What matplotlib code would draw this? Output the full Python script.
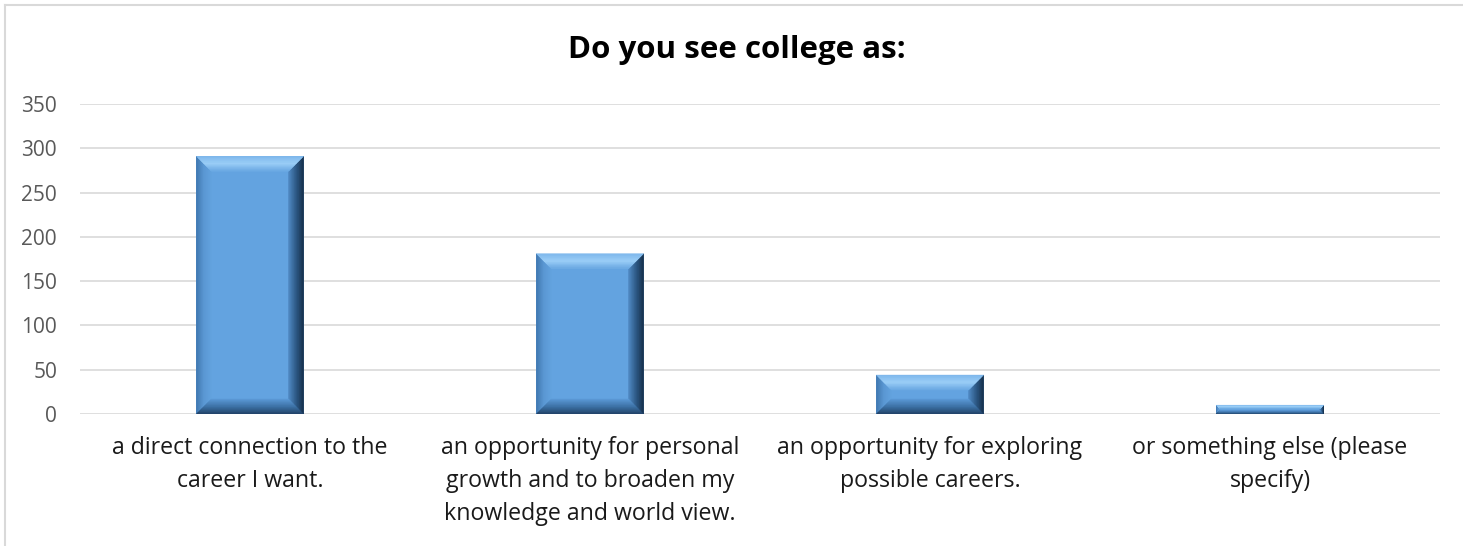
import numpy as np
import matplotlib
matplotlib.use("Agg")
import matplotlib.pyplot as plt
from matplotlib.patches import Polygon
from matplotlib.lines import Line2D
import matplotlib.colors as mcolors

categories = [
    "a direct connection to the\ncareer I want.",
    "an opportunity for personal\ngrowth and to broaden my\nknowledge and world view.",
    "an opportunity for exploring\npossible careers.",
    "or something else (please\nspecify)",
]
responses = [291, 181, 44, 10]
y_ticks = [0, 50, 100, 150, 200, 250, 300, 350]
title = "Do you see college as:"

W, H, DPI = 1463, 546, 100
plt.rcParams["font.family"] = ["Open Sans", "DejaVu Sans"]

fig = plt.figure(figsize=(W / DPI, H / DPI), dpi=DPI)
ax = fig.add_axes([80 / W, 132 / H, (1440 - 80) / W, (442 - 132) / H])

ax.set_xlim(-0.5, len(categories) - 0.5)
ax.set_ylim(0, 350)
ax.set_yticks(y_ticks)
ax.set_xticks(range(len(categories)))
ax.set_xticklabels([])
ax.tick_params(axis="both", length=0)
ax.tick_params(axis="y", labelsize=15, labelcolor="#595959", pad=16.5)
for s in ax.spines.values():
    s.set_visible(False)
ax.grid(axis="y", color="#D9D9D9", linewidth=1.2)
ax.set_axisbelow(True)

# category labels under each bar
for i, lab in enumerate(categories):
    ax.text(i, -25, lab, ha="center", va="top", fontsize=16.7,
            color="#1a1a1a", linespacing=1.5,
            transform=ax.transData, clip_on=False)

# bevelled bars
bar_w = 0.315
bevel_px = 15
ax_w_px = (1440 - 80)
ax_h_px = (442 - 132)
dx = (len(categories)) / ax_w_px
dy = 350 / ax_h_px

face = "#63A3E0"
top_c = ("#7FB8EC", "#9DD0F8", "#6BA9E3")
left_c = ("#3F76AE", "#5A97D2", "#62A2DF")
right_c = ("#142B45", "#2A5580", "#4F88C2")
bot_c = ("#1E3D60", "#3B6FA3", "#5A98D5")


def blend3(cs, t):
    a, b, c = (np.array(mcolors.to_rgb(x)) for x in cs)
    if t < 0.5:
        return a + (b - a) * (t / 0.5)
    return b + (c - b) * ((t - 0.5) / 0.5)


def strip(outer, inner, colors, n=24):
    (o1, o2), (i1, i2) = outer, inner
    o1, o2, i1, i2 = map(np.array, (o1, o2, i1, i2))
    for k in range(n):
        t0, t1 = k / n, (k + 1) / n
        p = [o1 + (i1 - o1) * t0, o2 + (i2 - o2) * t0,
             o2 + (i2 - o2) * t1, o1 + (i1 - o1) * t1]
        ax.add_patch(Polygon(p, closed=True,
                             facecolor=blend3(colors, (t0 + t1) / 2),
                             edgecolor=blend3(colors, (t0 + t1) / 2),
                             linewidth=0.3, zorder=3))


for i, v in enumerate(responses):
    x0, x1 = i - bar_w / 2, i + bar_w / 2
    y0, y1 = 0, v
    ax.add_patch(Polygon([(x0, y0), (x1, y0), (x1, y1), (x0, y1)], closed=True,
                         facecolor=face, edgecolor="none", zorder=2))
    h_px = v / dy
    b = min(bevel_px, h_px / 2 - 0.5)
    bx, by = b * dx, b * dy
    ix0, ix1, iy0, iy1 = x0 + bx, x1 - bx, y0 + by, y1 - by
    strip(((x0, y0), (x0, y1)), ((ix0, iy0), (ix0, iy1)), left_c)
    strip(((x1, y0), (x1, y1)), ((ix1, iy0), (ix1, iy1)), right_c)
    strip(((x0, y1), (x1, y1)), ((ix0, iy1), (ix1, iy1)), top_c)
    strip(((x0, y0), (x1, y0)), ((ix0, iy0), (ix1, iy0)), bot_c)

fig.text(737 / W, 1 - 50 / H, title, ha="center", va="center",
         fontsize=22.5, fontweight="bold", color="#000000")

# chart frame
fig.add_artist(Line2D([5 / W, 1], [1 - 5 / H, 1 - 5 / H], color="#D9D9D9", lw=1.5))
fig.add_artist(Line2D([5 / W, 5 / W], [0, 1 - 5 / H], color="#D9D9D9", lw=1.5))

fig.savefig("out.png", dpi=DPI, facecolor="white")
